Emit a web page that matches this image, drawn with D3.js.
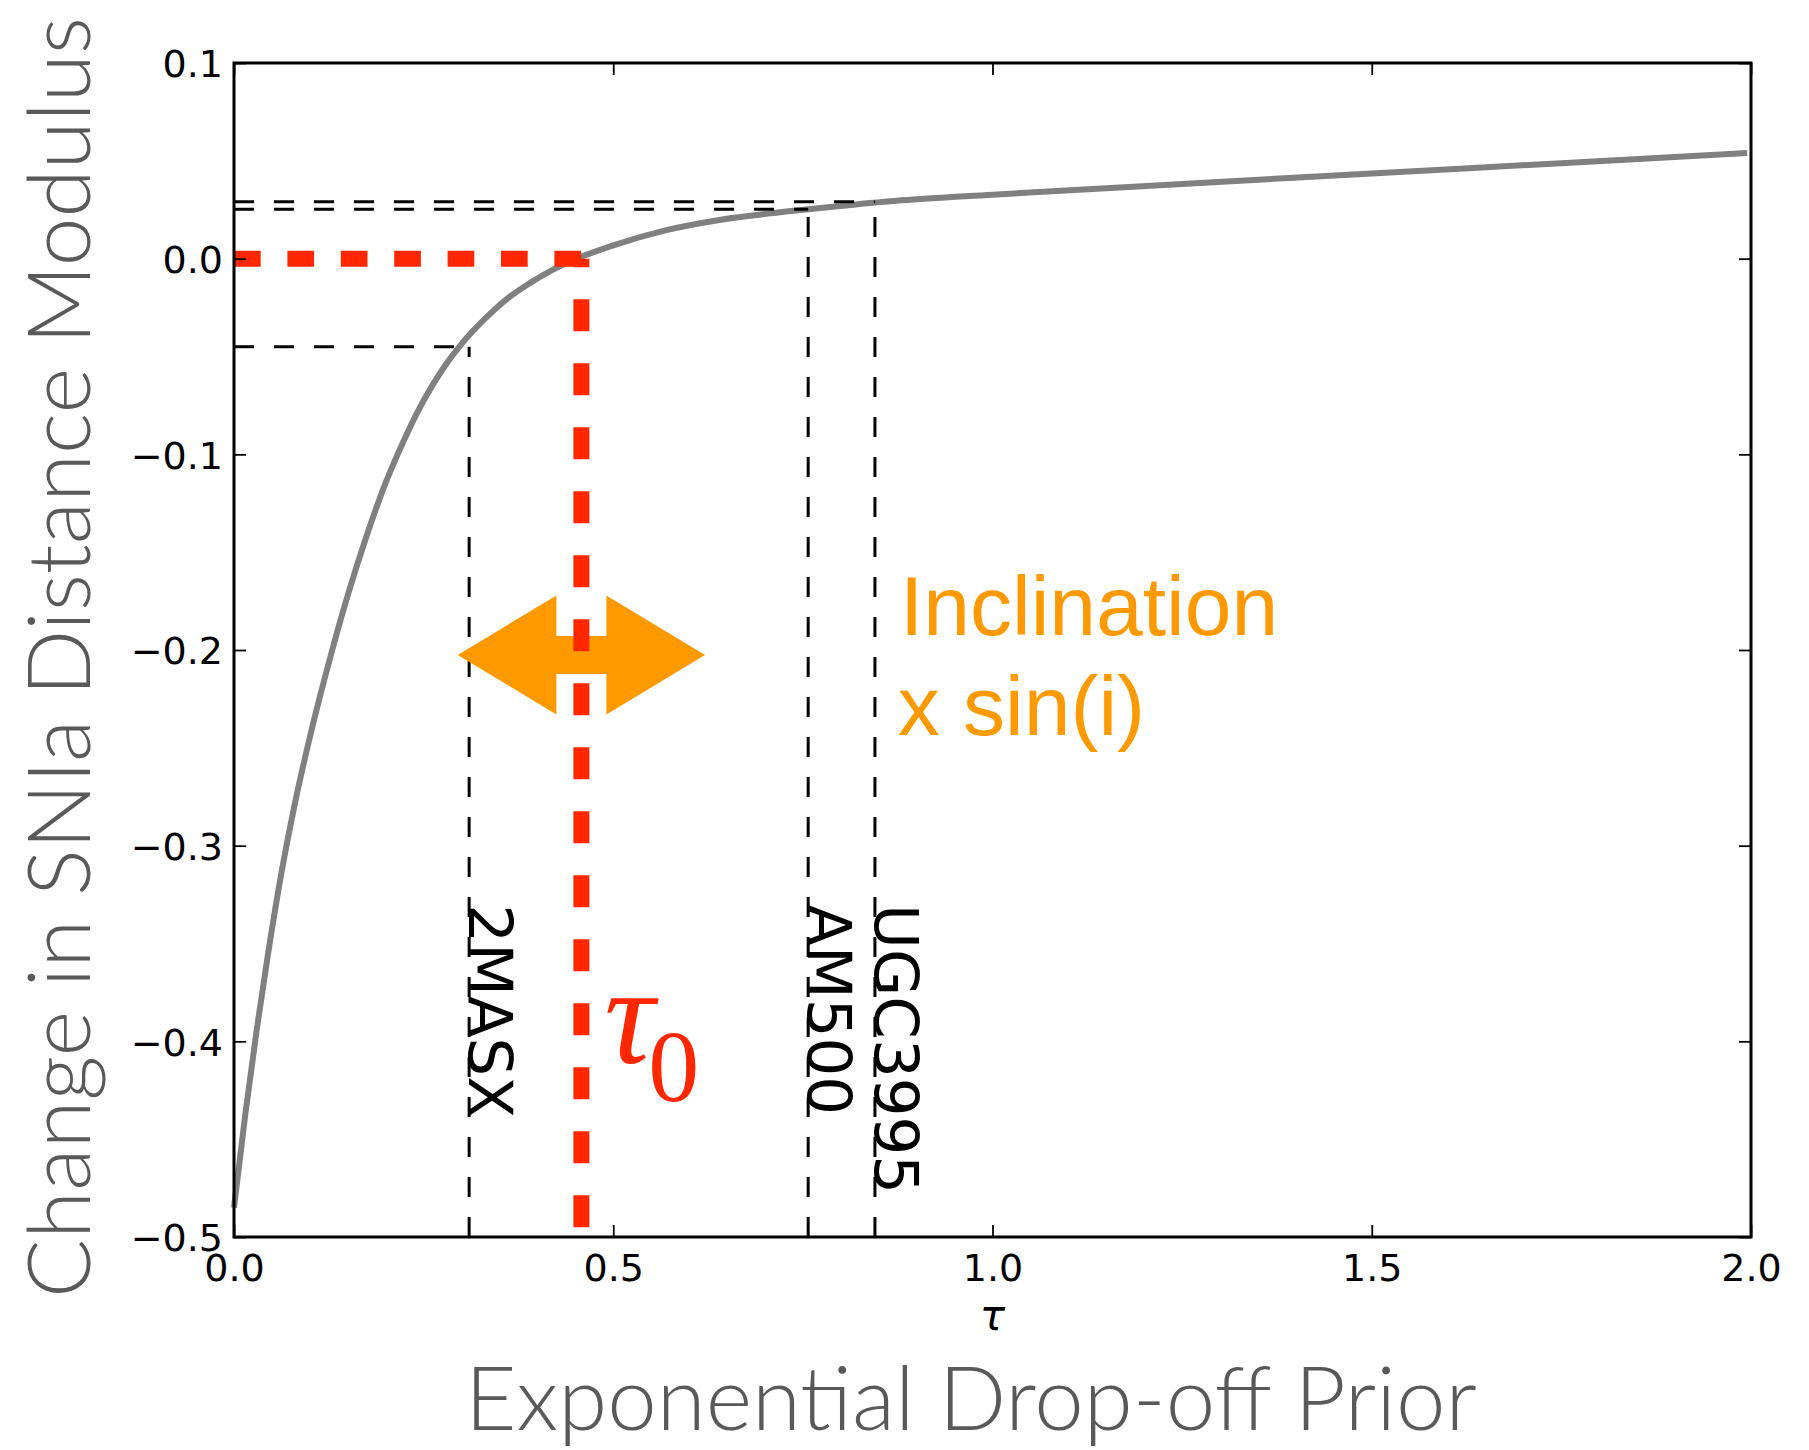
<!DOCTYPE html>
<html>
<head>
<meta charset="utf-8">
<script src="https://cdn.jsdelivr.net/npm/d3@7"></script>
<style>
  body { margin: 0; background: #fff; }
  svg { display: block; }
</style>
</head>
<body>
<div id="chart"></div>
<script>
// curve: change in distance modulus vs tau
const tauValues = [0, 0.015, 0.03, 0.045, 0.0625, 0.08, 0.1, 0.125, 0.15, 0.175, 0.2, 0.225, 0.25, 0.275,
    0.3, 0.33, 0.36, 0.39, 0.42, 0.45, 0.5, 0.57, 0.64, 0.72, 0.79, 0.88, 1.0, 1.25, 1.5, 1.75, 1.995];
const dmuValues = [-0.485, -0.437, -0.394, -0.355, -0.314, -0.279, -0.2445, -0.2065, -0.172, -0.1415, -0.1145, -0.092, -0.0725, -0.0565,
    -0.0435, -0.031, -0.0205, -0.0125, -0.0057, -0.0003, 0.0068, 0.0146, 0.0198, 0.0237, 0.0265, 0.0298, 0.0327, 0.0382, 0.0435, 0.0488, 0.054];

// galaxies marked with dashed guides
const galaxyNames = ["2MASX", "AM500", "UGC3995"];
const galaxyTau = [0.31, 0.757, 0.845];
const galaxyDmu = [-0.045, 0.0252, 0.0291];
const galaxyLabelDmu = -0.33;

const tau0 = 0.458;
const tau0Bottom = -0.495;
const arrowCenter = -0.2025;
const arrowHalfSpan = 0.163;

const xTicks = [0, 0.5, 1.0, 1.5, 2.0];
const yTicks = [0.1, 0.0, -0.1, -0.2, -0.3, -0.4, -0.5];

const W = 1809, H = 1450;
const margin = {top: 63, right: 58, bottom: 213, left: 234};
const width = W - margin.left - margin.right;
const height = H - margin.top - margin.bottom;

const svg = d3.select("#chart").append("svg")
    .attr("width", W)
    .attr("height", H);

const g = svg.append("g")
    .attr("transform", `translate(${margin.left},${margin.top})`);

const x = d3.scaleLinear().domain([0, 2]).range([0, width]);
const y = d3.scaleLinear().domain([-0.5, 0.1]).range([height, 0]);

const RED = "#ff2700", ORANGE = "#ff9900";

// main curve
const pts = tauValues.map((t, i) => [t, dmuValues[i]]);
g.append("path")
    .datum(pts)
    .attr("fill", "none")
    .attr("stroke", "#808080")
    .attr("stroke-width", 6)
    .attr("stroke-linejoin", "round")
    .attr("d", d3.line().x(d => x(d[0])).y(d => y(d[1])).curve(d3.curveMonotoneX));

// black dashed guides
galaxyNames.forEach((name, i) => {
    g.append("line")
        .attr("x1", x(0)).attr("x2", x(galaxyTau[i]))
        .attr("y1", y(galaxyDmu[i])).attr("y2", y(galaxyDmu[i]))
        .attr("stroke", "#000").attr("stroke-width", 3)
        .attr("stroke-dasharray", "20 20");
    g.append("line")
        .attr("x1", x(galaxyTau[i])).attr("x2", x(galaxyTau[i]))
        .attr("y1", y(-0.5)).attr("y2", y(galaxyDmu[i]))
        .attr("stroke", "#000").attr("stroke-width", 3)
        .attr("stroke-dasharray", "20 20");
    g.append("text")
        .attr("transform", `translate(${x(galaxyTau[i])},${y(galaxyLabelDmu)}) rotate(90)`)
        .attr("font-family", "DejaVu Sans")
        .attr("font-size", 61)
        .attr("fill", "#000")
        .text(name);
});

// orange double arrow
const cx = x(tau0), cy = y(arrowCenter);
const tip = x(tau0 + arrowHalfSpan) - cx;
const hb = 25, hh = 59.5, sh = 19;
const arrowPts = [[-tip, 0], [-hb, -hh], [-hb, -sh], [hb, -sh], [hb, -hh], [tip, 0],
    [hb, hh], [hb, sh], [-hb, sh], [-hb, hh]];
g.append("polygon")
    .attr("points", arrowPts.map(p => [cx + p[0], cy + p[1]].join(",")).join(" "))
    .attr("fill", ORANGE);

// red tau0 guides
g.append("line")
    .attr("x1", x(0)).attr("x2", x(tau0))
    .attr("y1", y(0)).attr("y2", y(0))
    .attr("stroke", RED).attr("stroke-width", 16)
    .attr("stroke-dasharray", "26.7 26.7");
g.append("line")
    .attr("x1", x(tau0)).attr("x2", x(tau0))
    .attr("y1", y(tau0Bottom)).attr("y2", y(0))
    .attr("stroke", RED).attr("stroke-width", 16)
    .attr("stroke-dasharray", "32 32");

// tau0 label
const t0 = g.append("text")
    .attr("x", x(0.488)).attr("y", y(-0.411))
    .attr("font-family", "Liberation Serif, DejaVu Serif, serif")
    .attr("font-size", 140)
    .attr("fill", RED);
t0.append("tspan").attr("font-style", "italic").text("τ");
t0.append("tspan").attr("font-size", 102).attr("dy", 38).attr("dx", -6).text("0");

// orange annotation
const incl = g.append("text")
    .attr("font-family", "Liberation Sans, Arial, sans-serif")
    .attr("font-size", 84)
    .attr("fill", ORANGE);
incl.append("tspan").attr("x", x(0.878)).attr("y", y(-0.1925)).text("Inclination");
incl.append("tspan").attr("x", x(0.875)).attr("y", y(-0.2436)).text("x sin(i)");

// frame
g.append("rect")
    .attr("width", width).attr("height", height)
    .attr("fill", "none").attr("stroke", "#000").attr("stroke-width", 3);

// axes (inward ticks on all sides)
const fmt = d3.format(".1f");
function styleAxis(sel) {
    sel.select(".domain").remove();
    sel.selectAll(".tick line").attr("stroke", "#000").attr("stroke-width", 1.8);
    sel.selectAll(".tick text")
        .attr("font-family", "DejaVu Sans")
        .attr("font-size", 38)
        .attr("fill", "#000");
}

g.append("g")
    .call(d3.axisLeft(y).tickValues(yTicks).tickFormat(fmt).tickSizeInner(-12).tickSizeOuter(0).tickPadding(11))
    .call(styleAxis)
    .selectAll(".tick text").attr("dy", "0.36em");

g.append("g")
    .attr("transform", `translate(${width},0)`)
    .call(d3.axisRight(y).tickValues(yTicks).tickFormat("").tickSizeInner(-12).tickSizeOuter(0))
    .call(styleAxis);

g.append("g")
    .attr("transform", `translate(0,${height})`)
    .call(d3.axisBottom(x).tickValues(xTicks).tickFormat(fmt).tickSizeInner(-12).tickSizeOuter(0).tickPadding(17.5))
    .call(styleAxis);

g.append("g")
    .call(d3.axisTop(x).tickValues(xTicks).tickFormat("").tickSizeInner(-12).tickSizeOuter(0))
    .call(styleAxis);

// tau axis label
g.append("text")
    .attr("x", width / 2).attr("y", height + 93)
    .attr("text-anchor", "middle")
    .attr("font-family", "DejaVu Sans")
    .attr("font-style", "italic")
    .attr("font-size", 42)
    .text("τ");

// big grey titles
function fitText(sel, target) {
    const len = sel.node().getComputedTextLength();
    const fs = +sel.attr("font-size");
    sel.attr("font-size", fs * target / len);
}

const yTitle = svg.append("text")
    .attr("transform", "translate(90,657.5) rotate(-90)")
    .attr("text-anchor", "middle")
    .attr("font-family", "Lato, Open Sans, sans-serif")
    .attr("font-weight", 300)
    .attr("font-size", 90)
    .attr("fill", "#595959")
    .text("Change in SNIa Distance Modulus");
fitText(yTitle, 1281);

const xTitle = svg.append("text")
    .attr("x", 971).attr("y", 1430)
    .attr("text-anchor", "middle")
    .attr("font-family", "Lato, Open Sans, sans-serif")
    .attr("font-weight", 300)
    .attr("font-size", 90)
    .attr("fill", "#595959")
    .text("Exponential Drop-off Prior");
fitText(xTitle, 1012);
</script>
</body>
</html>
